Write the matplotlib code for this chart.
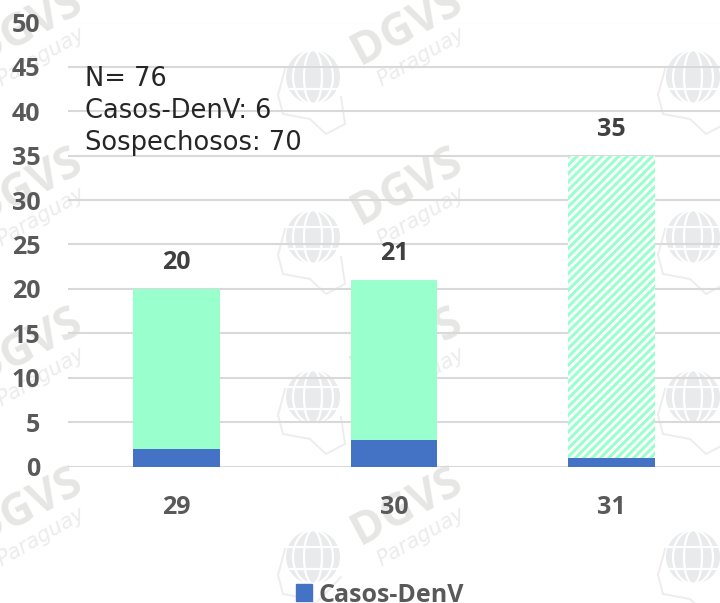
import matplotlib
matplotlib.use("Agg")
import matplotlib.pyplot as plt
from matplotlib.lines import Line2D
from matplotlib.patches import Circle, Ellipse, Patch

# data
weeks = ["29", "30", "31"]
casos = [2, 3, 1]
sospechosos = [18, 18, 34]
totales = [20, 21, 35]
y_ticks = [0, 5, 10, 15, 20, 25, 30, 35, 40, 45, 50]
notes = ["N= 76", "Casos-DenV: 6", "Sospechosos: 70"]

W, H = 720, 603
blue = "#4472c4"
mint = "#99ffcc"
grey = "#595959"
tick_font = "Open Sans"
note_font = "DejaVu Sans"
label_size = 18

plt.rcParams["hatch.linewidth"] = 2.2

fig = plt.figure(figsize=(W / 100, H / 100), dpi=100)
ax = fig.add_axes([68 / W, 1 - 466.5 / H, (720 - 68) / W, 444 / H])
ax.patch.set_visible(False)

x = list(range(len(weeks)))
ax.bar(x, casos, width=0.4, color=blue, zorder=3)
bars = ax.bar(x, sospechosos, width=0.4, bottom=casos, color=mint, zorder=3)

# last week is still provisional, drawn hatched
bars[2].set_facecolor("white")
bars[2].set_edgecolor(mint)
bars[2].set_hatch("////")
bars[2].set_linewidth(0)

ax.set_xlim(-0.5, 2.5)
ax.set_ylim(0, 50)
ax.set_yticks(y_ticks)
ax.set_xticks(x)
ax.set_xticklabels(weeks)
ax.grid(axis="y", color="#d9d9d9", lw=1.5, zorder=0)
ax.set_axisbelow(True)
for s in ax.spines.values():
    s.set_visible(False)
ax.tick_params(length=0)
ax.tick_params(axis="y", pad=20)
ax.tick_params(axis="x", pad=20.5)
for lab in ax.get_xticklabels() + ax.get_yticklabels():
    lab.set_fontfamily(tick_font)
    lab.set_fontweight("bold")
    lab.set_fontsize(label_size)
    lab.set_color(grey)

for i, t in enumerate(totales):
    ax.annotate(str(t), (x[i], t), xytext=(0, 19), textcoords="offset points",
                ha="center", va="center", fontfamily=tick_font, fontweight="bold",
                fontsize=label_size, color="#404040", zorder=5)

for i, line in enumerate(notes):
    fig.text(85 / W, 1 - (79 + 32 * i) / H, line, ha="left", va="center",
             fontfamily=note_font, fontsize=18.5, color="#262626", zorder=6)

# legend, only the blue series has an entry
leg = fig.legend(handles=[Patch(color=blue, label="Casos-DenV")], loc="center",
                 bbox_to_anchor=(380 / W, 1 - 595 / H), frameon=False,
                 handlelength=0.64, handleheight=0.64, handletextpad=0.28,
                 prop={"family": tick_font, "weight": "bold", "size": label_size})
leg.get_texts()[0].set_color(grey)

# watermark, sits behind the axes
wm = "#e6e6e4"
for px in [27, 407]:
    for py in [27, 187, 347, 507]:
        fig.text(px / W, 1 - py / H, "DGVS", rotation=28, ha="center", va="center",
                 fontfamily=tick_font, fontweight="bold", fontsize=32, color=wm, zorder=-1)
        fig.text((px + 14) / W, 1 - (py + 30) / H, "Paraguay", rotation=30, ha="center", va="center",
                 fontstyle="italic", fontfamily="DejaVu Sans", fontsize=15, color="#ececec", zorder=-1)

map_outline = [(-28, -8), (-35, 18), (-30, 37), (-3, 42), (13, 57), (32, 47), (28, 20)]
for gx in [313, 693]:
    for gy in [77, 237, 397, 557]:
        cx, cy = gx, H - gy
        fig.add_artist(Circle((cx, cy), 27, transform=None, facecolor="#e9eaeb",
                              edgecolor="none", zorder=-1))
        for w in [18, 40]:
            fig.add_artist(Ellipse((cx, cy), w, 54, transform=None, facecolor="none",
                                   edgecolor="white", lw=1.6, zorder=-1))
        for dy in [-12, 10]:
            fig.add_artist(Line2D([cx - 27, cx + 27], [cy + dy, cy + dy], transform=None,
                                  color="white", lw=1.6, zorder=-1))
        fig.add_artist(Line2D([cx + p[0] for p in map_outline], [cy - p[1] for p in map_outline],
                              transform=None, color="#efecec", lw=1.4, zorder=-1))

fig.savefig("out.png", dpi=100)
